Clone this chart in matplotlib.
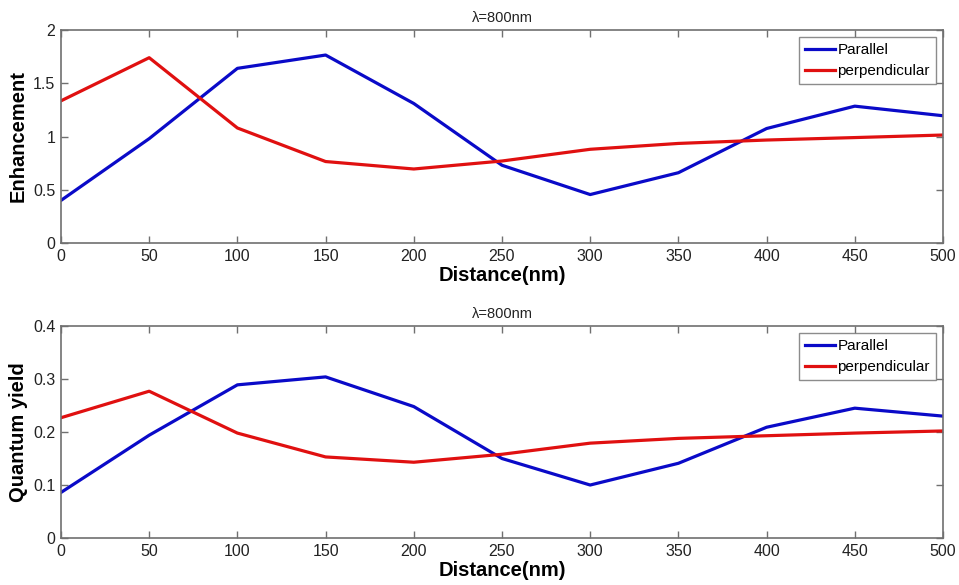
import matplotlib
matplotlib.use("Agg")
import matplotlib.pyplot as plt

plt.rcParams['font.family'] = ['Liberation Sans', 'DejaVu Sans']

distance = [0, 50, 100, 150, 200, 250, 300, 350, 400, 450, 500]
enh_parallel = [0.40, 0.98, 1.64, 1.765, 1.31, 0.73, 0.455, 0.66, 1.075, 1.285, 1.195]
enh_perp = [1.335, 1.74, 1.08, 0.765, 0.695, 0.77, 0.88, 0.935, 0.967, 0.99, 1.014]
qy_parallel = [0.086, 0.194, 0.289, 0.304, 0.248, 0.150, 0.100, 0.141, 0.209, 0.245, 0.230]
qy_perp = [0.227, 0.277, 0.198, 0.153, 0.143, 0.158, 0.179, 0.188, 0.193, 0.198, 0.202]
title = "λ=800nm"
xlabel = "Distance(nm)"
ylabels = ["Enhancement", "Quantum yield"]
legend_labels = ["Parallel", "perpendicular"]

BLUE = '#0a0ac8'
RED = '#e01010'
FRAME = '#707070'

fig = plt.figure(figsize=(9.59, 5.85), dpi=100)
ax1 = fig.add_axes([0.0636, 0.5846, 0.9197, 0.3641])
ax2 = fig.add_axes([0.0636, 0.0803, 0.9197, 0.3624])

panels = [
    (ax1, enh_parallel, enh_perp, ylabels[0], (0, 2), [0, 0.5, 1, 1.5, 2], ['0', '0.5', '1', '1.5', '2']),
    (ax2, qy_parallel, qy_perp, ylabels[1], (0, 0.4), [0, 0.1, 0.2, 0.3, 0.4], ['0', '0.1', '0.2', '0.3', '0.4']),
]

for ax, par, per, yl, ylim, yt, ytl in panels:
    ax.plot(distance, par, color=BLUE, lw=2.3, label=legend_labels[0])
    ax.plot(distance, per, color=RED, lw=2.3, label=legend_labels[1])
    ax.set_xlim(0, 500)
    ax.set_ylim(*ylim)
    ax.set_xticks(distance)
    ax.set_yticks(yt)
    ax.set_yticklabels(ytl)
    ax.tick_params(direction='in', top=True, right=True, length=5, width=1,
                   color=FRAME, labelsize=11.5, labelcolor='#222222', pad=4)
    for s in ax.spines.values():
        s.set_color(FRAME)
        s.set_linewidth(1.2)
    ax.set_xlabel(xlabel, fontsize=14.5, fontweight='bold', labelpad=2)
    ax.set_ylabel(yl, fontsize=14.5, fontweight='bold', labelpad=4)
    ax.set_title(title, fontsize=10.5, color='#222222', pad=6)
    leg = ax.legend(loc='upper right', fontsize=11, frameon=True, fancybox=False,
                    edgecolor=FRAME, handlelength=2.0, handletextpad=0.15,
                    borderpad=0.4, labelspacing=0.45, borderaxespad=0.45)
    leg.get_frame().set_linewidth(1.0)

fig.savefig("out.png", dpi=100)
